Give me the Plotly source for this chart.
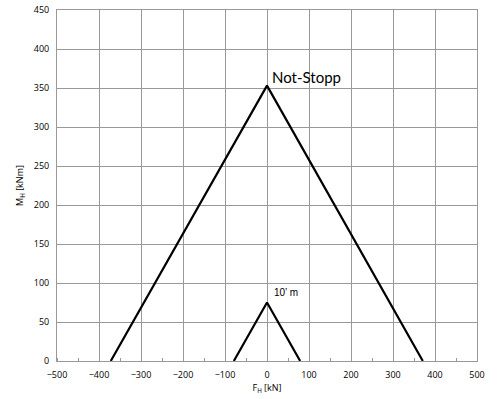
import plotly.graph_objects as go

not_stopp_x = [-372, 0, 371]
not_stopp_y = [0, 353, 0]
m10_x = [-79, 0, 79]
m10_y = [0, 75, 0]
x_ticks = [-500, -400, -300, -200, -100, 0, 100, 200, 300, 400, 500]
y_ticks = [0, 50, 100, 150, 200, 250, 300, 350, 400, 450]

fig = go.Figure()
fig.add_trace(go.Scatter(x=not_stopp_x, y=not_stopp_y, mode="lines",
                         line=dict(color="black", width=2.2), showlegend=False))
fig.add_trace(go.Scatter(x=m10_x, y=m10_y, mode="lines",
                         line=dict(color="black", width=2.2), showlegend=False))
fig.add_annotation(x=0, y=353, text="Not-Stopp", showarrow=False,
                   xanchor="left", yanchor="bottom", xshift=3, yshift=-2,
                   font=dict(family="Lato", size=15, color="black"))
fig.add_annotation(x=0, y=75, text="10’ m", showarrow=False,
                   xanchor="left", yanchor="bottom", xshift=5, yshift=3,
                   font=dict(family="Liberation Sans", size=10, color="black"))

axis_common = dict(showgrid=True, gridcolor="#999999", gridwidth=1,
                   showline=True, linecolor="#999999", linewidth=1, mirror=True,
                   zeroline=False, tickfont=dict(family="Open Sans", size=9, color="black"),
                   ticks="outside", ticklen=5, tickcolor="rgba(0,0,0,0)", automargin=False)
fig.update_xaxes(range=[-500, 500], tickvals=x_ticks, **axis_common,
                 minor=dict(ticks="inside", ticklen=3, tickcolor="#999999", dtick=50, showgrid=False),
                 title=dict(text="F<sub>H</sub> [kN]", font=dict(family="Open Sans", size=9, color="black"), standoff=4))
fig.update_yaxes(range=[0, 450], tickvals=y_ticks, **axis_common,
                 title=dict(text="M<sub>H</sub> [kNm]", font=dict(family="Open Sans", size=9, color="black"), standoff=8))
fig.update_layout(width=498, height=399, plot_bgcolor="white", paper_bgcolor="white",
                  margin=dict(l=57, r=21, t=10, b=38))
fig.write_html("out.html", config={"displayModeBar": False},
               post_script="document.body.style.margin='0';")
